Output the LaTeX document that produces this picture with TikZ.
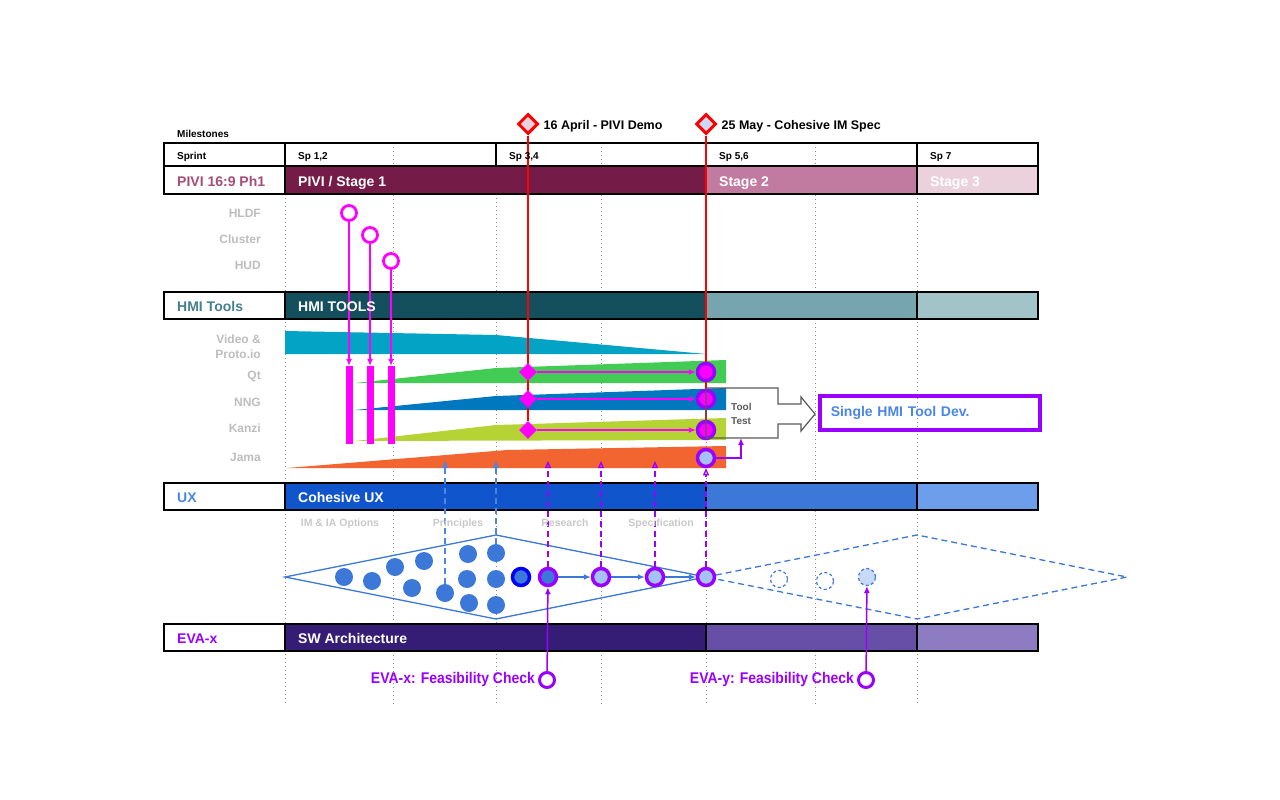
\documentclass[tikz,border=0pt]{standalone}
\usepackage{fontspec}
\setmainfont{Liberation Sans}
\newfontfamily\narrowsans[FakeStretch=0.9]{Liberation Sans}
\usepackage{tikz}
\usetikzlibrary{positioning, arrows.meta, calc, shapes.geometric}
\definecolor{pivi}{HTML}{741B47}
\definecolor{pivitwo}{HTML}{C27BA0}
\definecolor{pivithree}{HTML}{EAD1DC}
\definecolor{pivilbl}{HTML}{A64D79}
\definecolor{hmi}{HTML}{134F5C}
\definecolor{hmitwo}{HTML}{76A5AF}
\definecolor{hmithree}{HTML}{A2C4C9}
\definecolor{hmilbl}{HTML}{45818E}
\definecolor{ux}{HTML}{1155CC}
\definecolor{uxtwo}{HTML}{3C78D8}
\definecolor{uxthree}{HTML}{6D9EEB}
\definecolor{uxlbl}{HTML}{4A86E8}
\definecolor{eva}{HTML}{351C75}
\definecolor{evatwo}{HTML}{674EA7}
\definecolor{evathree}{HTML}{8E7CC3}
\definecolor{evapurple}{HTML}{9900FF}
\definecolor{pinmagenta}{HTML}{FF00FF}
\definecolor{msred}{HTML}{FF0000}
\definecolor{coreblue}{HTML}{0000FF}
\definecolor{vidband}{HTML}{02A3C4}
\definecolor{qtband}{HTML}{43CC53}
\definecolor{nngband}{HTML}{0078BF}
\definecolor{kanziband}{HTML}{B6D335}
\definecolor{jamaband}{HTML}{F26430}
\definecolor{labelgray}{HTML}{BDBDBD}
\definecolor{phasegray}{HTML}{C8C8C8}
\definecolor{testgray}{HTML}{595959}
\definecolor{gridgray}{HTML}{8C8C8C}
\definecolor{lightblue}{HTML}{A4C2F4}
\definecolor{paleblue}{HTML}{C9DAF8}
\definecolor{palepink}{HTML}{EAD1DC}
\pgfdeclarelayer{back}
\pgfdeclarelayer{links}
\pgfsetlayers{back,links,main}

\begin{document}
\begin{tikzpicture}[x=1pt, y=-1pt,
    cell/.style={draw=black, line width=1.3pt, fill=#1},
    cell/.default=none,
    gridline/.style={draw=gridgray, line width=1pt, dash pattern=on 1pt off 3pt},
    rowlabel/.style={anchor=west, inner sep=0pt, text height=1.5ex, text depth=0.25ex, font=\fontsize{14}{16}\selectfont\bfseries, text=#1},
    bartitle/.style={anchor=west, inner sep=0pt, text height=1.5ex, text depth=0.25ex, font=\fontsize{14}{16}\selectfont\bfseries, text=white},
    sprintlabel/.style={anchor=west, inner sep=0pt, text height=1.5ex, text depth=0.25ex, font=\fontsize{10}{12}\selectfont\bfseries},
    toolname/.style={anchor=east, inner sep=0pt, align=right, font=\fontsize{12}{15}\selectfont\bfseries, text=labelgray},
    phaselabel/.style={inner sep=0pt, text height=1.5ex, text depth=0.25ex, font=\fontsize{10.5}{12}\selectfont\bfseries, text=phasegray},
    mstext/.style={inner sep=0pt, text height=1.5ex, text depth=0.25ex, font=\fontsize{12.5}{14}\selectfont\bfseries},
    feastext/.style={inner sep=0pt, text height=1.5ex, text depth=0.25ex, font=\fontsize{15.5}{17}\narrowsans\bfseries, text=evapurple},
    milestone/.style={diamond, draw=msred, line width=3pt, fill=#1, minimum size=20pt, inner sep=0pt},
    gate/.style={diamond, fill=pinmagenta, minimum size=18pt, inner sep=0pt},
    pin/.style={circle, draw=pinmagenta, line width=2.8pt, fill=white, minimum size=15pt, inner sep=0pt},
    pinbar/.style={fill=pinmagenta, minimum width=7pt, minimum height=78pt, inner sep=0pt},
    hub/.style={circle, draw=evapurple, line width=3.5pt, fill=#1, minimum size=17pt, inner sep=0pt},
    uxdot/.style={circle, fill=uxtwo, minimum size=18pt, inner sep=0pt},
    ghost/.style={circle, draw=uxtwo, line width=1.2pt, dash pattern=on 3pt off 2.5pt, fill=#1, minimum size=17pt, inner sep=0pt},
    ghost/.default=none,
    evacheck/.style={circle, draw=evapurple, line width=3pt, fill=white, minimum size=15pt, inner sep=0pt},
    redlink/.style={msred, line width=1.5pt},
    magentalink/.style={-{Latex[length=7pt, width=6pt]}, pinmagenta, line width=1.2pt},
    flowlink/.style={-{Latex[length=7pt, width=6pt]}, uxtwo, line width=1.3pt},
    bluedash/.style={-{Triangle[open, length=7pt, width=6pt]}, uxlbl, line width=1.3pt, dash pattern=on 6pt off 4pt},
    violetdash/.style={-{Triangle[open, length=7pt, width=6pt]}, evapurple, line width=1.3pt, dash pattern=on 6pt off 4pt},
    violetlink/.style={-{Latex[length=7pt, width=6pt]}, evapurple, line width=1.5pt}
  ]
  \useasboundingbox (0,0) rectangle (1280,800);

  \begin{pgfonlayer}{back}
    % sprint grid
    \draw[gridline] (285,194) -- (285,705);
    \draw[gridline] (393,143) -- (393,705);
    \draw[gridline] (496,194) -- (496,705);
    \draw[gridline] (601,143) -- (601,705);
    \draw[gridline] (706,194) -- (706,705);
    \draw[gridline] (815,143) -- (815,705);
    \draw[gridline] (917,194) -- (917,705);

    % rows
    \draw[cell] (164,143) rectangle (285,166);
    \draw[cell] (285,143) rectangle (496,166);
    \draw[cell] (496,143) rectangle (706,166);
    \draw[cell] (706,143) rectangle (917,166);
    \draw[cell] (917,143) rectangle (1038,166);

    \draw[cell=white] (164,166) rectangle (285,194);
    \draw[cell=pivi] (285,166) rectangle (706,194);
    \draw[cell=pivitwo] (706,166) rectangle (917,194);
    \draw[cell=pivithree] (917,166) rectangle (1038,194);

    \draw[cell=white] (164,292) rectangle (285,319);
    \draw[cell=hmi] (285,292) rectangle (706,319);
    \draw[cell=hmitwo] (706,292) rectangle (917,319);
    \draw[cell=hmithree] (917,292) rectangle (1038,319);

    \draw[cell=white] (164,483) rectangle (285,510);
    \draw[cell=ux] (285,483) rectangle (706,510);
    \draw[cell=uxtwo] (706,483) rectangle (917,510);
    \draw[cell=uxthree] (917,483) rectangle (1038,510);

    \draw[cell=white] (164,624) rectangle (285,651);
    \draw[cell=eva] (285,624) rectangle (706,651);
    \draw[cell=evatwo] (706,624) rectangle (917,651);
    \draw[cell=evathree] (917,624) rectangle (1038,651);

    % tool bands
    \fill[vidband] (285,331) -- (496,335) -- (706,354) -- (285,354) -- cycle;
    \fill[qtband] (355,383) -- (496,368) -- (726,360) -- (726,383) -- cycle;
    \fill[nngband] (355,410) -- (496,396) -- (726,388) -- (726,410) -- cycle;
    \fill[kanziband] (355,441) -- (496,425) -- (726,418) -- (726,440) -- cycle;
    \fill[jamaband] (287,468) -- (507,450) -- (726,446) -- (726,468) -- cycle;

    % UX funnel
    \draw[uxtwo, line width=1.3pt] (285,577) -- (496,535) -- (706,577) -- (496,619) -- cycle;
    \draw[uxtwo, line width=1.3pt, dash pattern=on 6pt off 4pt] (706,577) -- (917,535) -- (1127,577) -- (917,619) -- cycle;
  \end{pgfonlayer}

  % labels
  \node[sprintlabel] (mslbl) at (177,134) {Milestones};
  \node[sprintlabel] (sprintlbl) at (177,156) {Sprint};
  \node[sprintlabel] (sp12) at (298,156) {Sp 1,2};
  \node[sprintlabel] (sp34) at (509,156) {Sp 3,4};
  \node[sprintlabel] (sp56) at (719,156) {Sp 5,6};
  \node[sprintlabel] (sp7) at (930,156) {Sp 7};

  \node[rowlabel=pivilbl] (pivilbl) at (177,183) {PIVI 16:9 Ph1};
  \node[bartitle] (stage1) at (298,183) {PIVI / Stage 1};
  \node[bartitle] (stage2) at (719,183) {Stage 2};
  \node[bartitle] (stage3) at (930,183) {Stage 3};

  \node[rowlabel=hmilbl] (hmilbl) at (177,308) {HMI Tools};
  \node[bartitle] (hmibar) at (298,308) {HMI TOOLS};

  \node[rowlabel=uxlbl] (uxlbl) at (177,499) {UX};
  \node[bartitle] (uxbar) at (298,499) {Cohesive UX};

  \node[rowlabel=evapurple] (evalbl) at (177,640) {EVA-x};
  \node[bartitle] (evabar) at (298,640) {SW Architecture};

  \node[toolname] (hldf) at (261,213) {HLDF};
  \node[toolname] (cluster) at (261,239) {Cluster};
  \node[toolname] (hud) at (261,265) {HUD};
  \node[toolname] (video) at (261,347) {Video \&\\Proto.io};
  \node[toolname] (qt) at (261,376) {Qt};
  \node[toolname] (nng) at (261,402) {NNG};
  \node[toolname] (kanzi) at (261,428) {Kanzi};
  \node[toolname] (jama) at (261,457) {Jama};

  \node[phaselabel] (imia) at (340,523) {IM \& IA Options};
  \node[phaselabel] (princ) at (458,523) {Principles};
  \node[phaselabel] (research) at (565,523) {Research};
  \node[phaselabel] (specif) at (661,523) {Specification};

  % milestones
  \node[milestone=palepink] (msdemo) at (528,124) {};
  \node[mstext, right=4pt of msdemo, yshift=-2pt] (msdemotxt) {16 April - PIVI Demo};
  \node[milestone=paleblue] (msspec) at (706,124) {};
  \node[mstext, right=4pt of msspec, yshift=-2pt] (msspectxt) {25 May - Cohesive IM Spec};

  % display pins
  \node[pin] (pinhldf) at (349,213) {};
  \node[pin] (pincluster) at (370,235) {};
  \node[pin] (pinhud) at (391,261) {};
  \node[pinbar] (barhldf) at (349,405) {};
  \node[pinbar] (barcluster) at (370,405) {};
  \node[pinbar] (barhud) at (391,405) {};

  % tool gates and hubs
  \node[gate] (gqt) at (528,372) {};
  \node[gate] (gnng) at (528,399) {};
  \node[gate] (gkanzi) at (528,430) {};
  \node[hub=pinmagenta] (hqt) at (706,372) {};
  \node[hub=pinmagenta] (hnng) at (706,399) {};
  \node[hub=pinmagenta] (hkanzi) at (706,430) {};
  \node[hub=lightblue] (hjama) at (706,458) {};

  \node[inner sep=0pt, align=left, anchor=west, text=testgray, font=\fontsize{10}{14}\selectfont\bfseries] (tooltest) at (731,414) {Tool\\Test};
  \node[draw=evapurple, line width=3.5pt, anchor=west, minimum height=34pt, text width=198pt, inner xsep=11pt, align=left, text=uxlbl, font=\fontsize{14}{16}\selectfont\bfseries] (hmidev) at (818,413) {Single HMI Tool Dev.};
  \coordinate (testfoot) at (741,438);

  % UX ideas
  \node[uxdot] (d1) at (344,577) {};
  \node[uxdot] (d2) at (372,581) {};
  \node[uxdot] (d3) at (395,567) {};
  \node[uxdot] (d4) at (424,561) {};
  \node[uxdot] (d5) at (412,588) {};
  \node[uxdot] (d6) at (445,593) {};
  \node[uxdot] (d7) at (468,554) {};
  \node[uxdot] (d8) at (467,579) {};
  \node[uxdot] (d9) at (469,603) {};
  \node[uxdot] (d10) at (496,553) {};
  \node[uxdot] (d11) at (496,579) {};
  \node[uxdot] (d12) at (496,605) {};
  \node[circle, draw=coreblue, line width=3.5pt, fill=uxtwo, minimum size=17pt, inner sep=0pt] (uxcore) at (521,577) {};
  \node[hub=uxtwo] (uxres) at (548,577) {};
  \node[hub=lightblue] (uxmid) at (601,577) {};
  \node[hub=lightblue] (uxspec) at (655,577) {};
  \node[hub=lightblue] (uxdone) at (706,577) {};
  \node[ghost] (gh1) at (779,579) {};
  \node[ghost] (gh2) at (825,581) {};
  \node[ghost=paleblue] (gh3) at (867,577) {};

  \coordinate (jamaprinc) at (445,461);
  \coordinate (jamaopt) at (496,461);
  \coordinate (jamares) at (548,461);
  \coordinate (jamamid) at (601,461);
  \coordinate (jamaspec) at (655,461);

  % feasibility checks
  \node[evacheck] (evax) at (547,680) {};
  \node[feastext, left=3pt of evax] (evaxtxt) {EVA-x: Feasibility Check};
  \node[evacheck] (evay) at (866,680) {};
  \node[feastext, left=3pt of evay] (evaytxt) {EVA-y: Feasibility Check};

  \begin{pgfonlayer}{links}
    \draw[redlink] (msdemo) -- (gkanzi);
    \draw[redlink] (msspec) -- (hkanzi);
    \draw[magentalink] (pinhldf) -- (barhldf);
    \draw[magentalink] (pincluster) -- (barcluster);
    \draw[magentalink] (pinhud) -- (barhud);
    \draw[magentalink] (gqt) -- (hqt);
    \draw[magentalink] (gnng) -- (hnng);
    \draw[magentalink] (gkanzi) -- (hkanzi);
    \draw[violetlink] (hjama.east) -| (testfoot);
    \draw[flowlink] (uxres) -- (uxmid);
    \draw[flowlink] (uxmid) -- (uxspec);
    \draw[flowlink] (uxspec) -- (uxdone);
    \draw[bluedash] (d6) -- (jamaprinc);
    \draw[bluedash] (d10) -- (jamaopt);
    \draw[violetdash] (uxres) -- (jamares);
    \draw[violetdash] (uxmid) -- (jamamid);
    \draw[violetdash] (uxspec) -- (jamaspec);
    \draw[violetdash] (uxdone) -- (hjama);
    \draw[violetlink] (evax) -- (uxres);
    \draw[violetlink] (evay) -- (gh3);
  \end{pgfonlayer}

  % tool test callout
  \draw[testgray, line width=1.2pt] (706,388) -- (778,388) -- (778,404) -- (801,404) -- (801,397) -- (815,414) -- (801,431) -- (801,424) -- (778,424) -- (778,438) -- (706,438) -- cycle;
\end{tikzpicture}
\end{document}
